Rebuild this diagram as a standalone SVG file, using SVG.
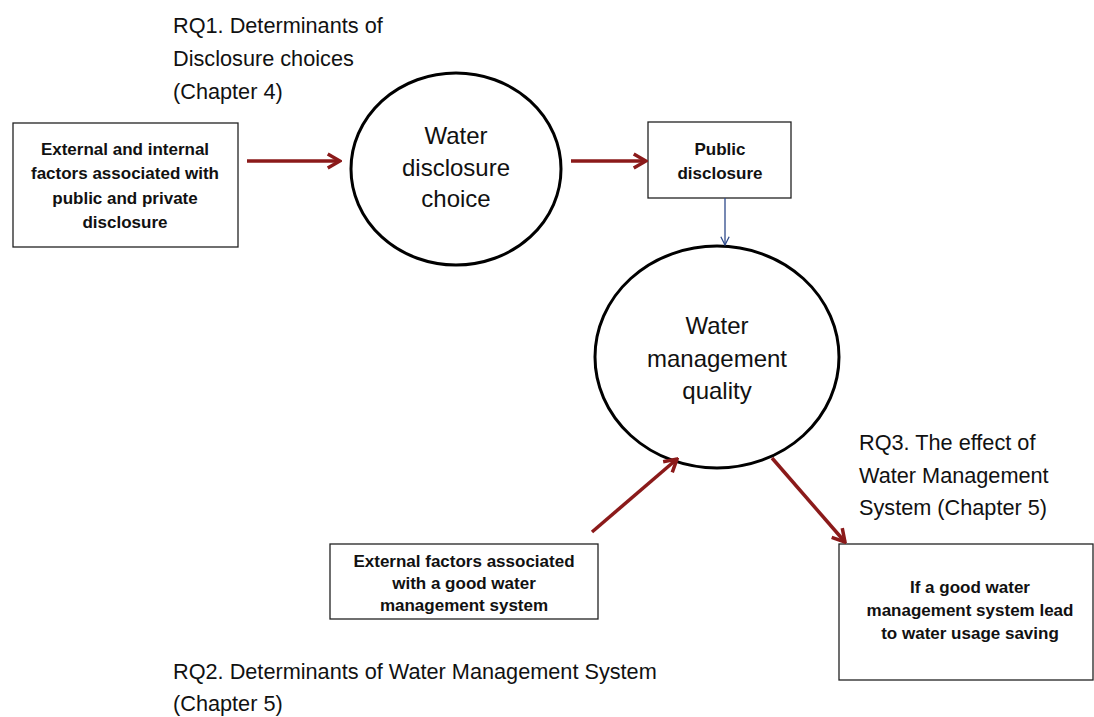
<svg xmlns="http://www.w3.org/2000/svg" width="1094" height="717" viewBox="0 0 1094 717">
<defs>
<style>
.box{fill:#fff;stroke:#222;stroke-width:1.3}
.circ{fill:#fff;stroke:#000;stroke-width:3}
.bt{font-family:"Liberation Sans",Arial,sans-serif;font-weight:bold;font-size:17px;fill:#111;text-anchor:middle}
.ct{font-family:"Liberation Sans",Arial,sans-serif;font-size:24px;fill:#111;text-anchor:middle}
.rq{font-family:"Liberation Sans",Arial,sans-serif;font-size:21.7px;fill:#111}
.red{stroke:#8B1A1A;stroke-width:3.5;fill:none;marker-end:url(#ah)}
.blue{stroke:#2E4A8A;stroke-width:1.3;fill:none;marker-end:url(#bh)}
</style>
<marker id="ah" viewBox="0 0 10 10" refX="9" refY="5" markerWidth="5" markerHeight="5" orient="auto" markerUnits="strokeWidth">
<path d="M2,1 L9,5 L2,9" fill="none" stroke="#8B1A1A" stroke-width="2"/>
</marker>
<marker id="bh" viewBox="0 0 10 10" refX="9" refY="5" markerWidth="8" markerHeight="8" orient="auto" markerUnits="strokeWidth">
<path d="M1,1 L9,5 L1,9" fill="none" stroke="#2E4A8A" stroke-width="1.2"/>
</marker>
</defs>
<rect width="1094" height="717" fill="#fff"/>

<g id="rq1"><text class="rq" x="173" y="33">RQ1. Determinants of</text><text class="rq" x="173" y="66">Disclosure choices</text><text class="rq" x="173" y="99">(Chapter 4)</text></g>
<g id="rq3"><text class="rq" x="859" y="450">RQ3. The effect of</text><text class="rq" x="859" y="483">Water Management</text><text class="rq" x="859" y="515">System (Chapter 5)</text></g>
<g id="rq2"><text class="rq" x="173" y="679">RQ2. Determinants of Water Management System</text><text class="rq" x="173" y="711">(Chapter 5)</text></g>

<g id="factors">
<rect class="box" x="13" y="123" width="225" height="124"/>
<text class="bt" x="125" y="155">External and internal</text>
<text class="bt" x="125" y="179">factors associated with</text>
<text class="bt" x="125" y="204">public and private</text>
<text class="bt" x="125" y="228">disclosure</text>
</g>

<g id="choice">
<ellipse class="circ" cx="456" cy="169" rx="105" ry="96"/>
<text class="ct" x="456" y="144">Water</text>
<text class="ct" x="456" y="176">disclosure</text>
<text class="ct" x="456" y="207">choice</text>
</g>

<g id="public">
<rect class="box" x="648" y="122" width="143" height="76"/>
<text class="bt" x="720" y="155">Public</text>
<text class="bt" x="720" y="179">disclosure</text>
</g>

<g id="quality">
<ellipse class="circ" cx="717" cy="357" rx="122" ry="111"/>
<text class="ct" x="717" y="334">Water</text>
<text class="ct" x="717" y="367">management</text>
<text class="ct" x="717" y="399">quality</text>
</g>

<g id="external">
<rect class="box" x="330" y="544" width="268" height="75"/>
<text class="bt" x="464" y="567">External  factors associated</text>
<text class="bt" x="464" y="589">with a good water</text>
<text class="bt" x="464" y="611">management system</text>
</g>

<g id="saving">
<rect class="box" x="839" y="544" width="254" height="136"/>
<text class="bt" x="970" y="593">If a good water</text>
<text class="bt" x="970" y="616">management system lead</text>
<text class="bt" x="970" y="639">to water usage saving</text>
</g>

<g id="connectors">
<line class="red" x1="247" y1="161" x2="340" y2="161"/>
<line class="red" x1="571" y1="161" x2="646" y2="161"/>
<line class="blue" x1="725" y1="198" x2="725" y2="245"/>
<line class="red" x1="592" y1="532" x2="677" y2="459"/>
<line class="red" x1="772" y1="458" x2="845" y2="542"/>
</g>
</svg>
